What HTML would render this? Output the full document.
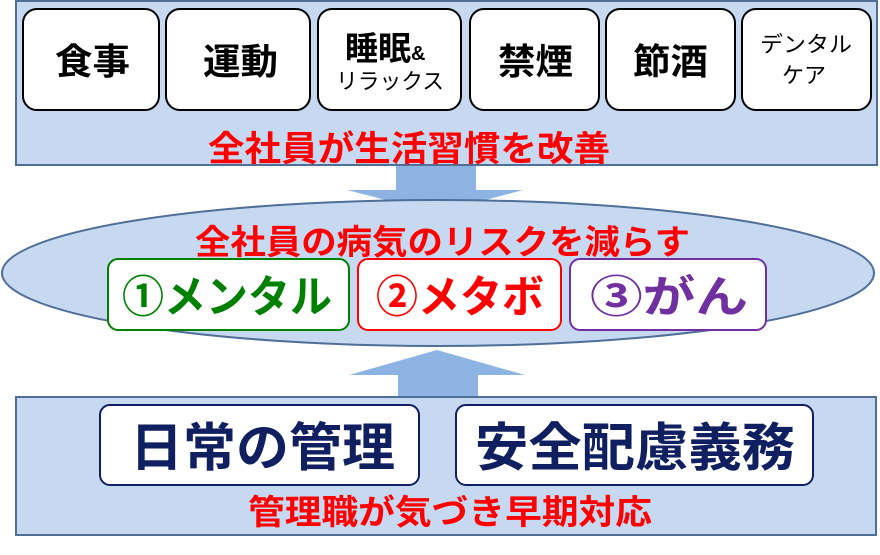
<!DOCTYPE html>
<html><head><meta charset="utf-8"><style>
body{margin:0;width:880px;height:550px;background:#fff;overflow:hidden}
text{font-family:"Liberation Sans","Noto Sans CJK JP",sans-serif;font-weight:bold}
</style></head><body>
<svg width="880" height="550" viewBox="0 0 880 550">
<rect x="16" y="1" width="861" height="164" fill="#c6d9f0" stroke="#4f6e98" stroke-width="2"/>
<g fill="#fff" stroke="#000" stroke-width="2">
<rect x="23" y="9" width="136" height="101" rx="14"/>
<rect x="166" y="9" width="144" height="101" rx="14"/>
<rect x="318" y="9" width="143" height="101" rx="14"/>
<rect x="470" y="9" width="129" height="101" rx="14"/>
<rect x="606" y="9" width="129" height="101" rx="14"/>
<rect x="742" y="9" width="129" height="101" rx="14"/>
</g>
<g font-size="36" fill="#000">
<text x="55" y="74" textLength="75" lengthAdjust="spacingAndGlyphs">食事</text>
<text x="203" y="74" textLength="75" lengthAdjust="spacingAndGlyphs">運動</text>
<text x="498" y="74" textLength="75" lengthAdjust="spacingAndGlyphs">禁煙</text>
<text x="633" y="74" textLength="75" lengthAdjust="spacingAndGlyphs">節酒</text>
</g>
<text x="345" y="60" font-size="33">睡眠<tspan font-size="20">&amp;</tspan></text>
<text x="336" y="89" font-size="22" textLength="108" lengthAdjust="spacingAndGlyphs" style="font-weight:normal">リラックス</text>
<text x="760" y="52" font-size="22" textLength="92" lengthAdjust="spacingAndGlyphs" style="font-weight:normal">デンタル</text>
<text x="782" y="83" font-size="22" style="font-weight:normal">ケア</text>
<text x="208" y="161" font-size="35" fill="#ff0000" textLength="402" lengthAdjust="spacingAndGlyphs">全社員が生活習慣を改善</text>
<polygon points="396,166 476,166 476,190 523,190 436,213 347,190 396,190" fill="#8db3e2"/>
<ellipse cx="438" cy="273" rx="436" ry="73" fill="#c6d9f0" stroke="#4f6e98" stroke-width="2"/>
<text x="195" y="254" font-size="34" fill="#ff0000" textLength="495" lengthAdjust="spacingAndGlyphs">全社員の病気のリスクを減らす</text>
<rect x="108" y="259" width="241" height="71" rx="10" fill="#fff" stroke="#008000" stroke-width="2"/>
<rect x="358" y="259" width="203" height="71" rx="10" fill="#fff" stroke="#ff0000" stroke-width="2"/>
<rect x="570" y="259" width="196" height="71" rx="10" fill="#fff" stroke="#7030a0" stroke-width="2"/>
<text x="122" y="312" font-size="44" fill="#008000" textLength="210" lengthAdjust="spacingAndGlyphs">①メンタル</text>
<text x="376" y="312" font-size="44" fill="#ff0000" textLength="168" lengthAdjust="spacingAndGlyphs">②メタボ</text>
<text x="590" y="312" font-size="44" fill="#7030a0" textLength="158" lengthAdjust="spacingAndGlyphs">③がん</text>
<polygon points="437,350 525,375 478,375 478,398 398,398 398,375 349,375" fill="#8db3e2"/>
<rect x="16" y="397" width="860" height="138" fill="#c6d9f0" stroke="#4f6e98" stroke-width="2"/>
<rect x="100" y="405" width="319" height="80" rx="10" fill="#fff" stroke="#0f1f5f" stroke-width="2"/>
<rect x="456" y="405" width="357" height="80" rx="10" fill="#fff" stroke="#0f1f5f" stroke-width="2"/>
<text x="130" y="466" font-size="52" fill="#0f1f5f" textLength="265" lengthAdjust="spacingAndGlyphs">日常の管理</text>
<text x="475" y="466" font-size="52" fill="#0f1f5f" textLength="320" lengthAdjust="spacingAndGlyphs">安全配慮義務</text>
<text x="248" y="524" font-size="34" fill="#ff0000" textLength="404" lengthAdjust="spacingAndGlyphs">管理職が気づき早期対応</text>
</svg>
</body></html>
